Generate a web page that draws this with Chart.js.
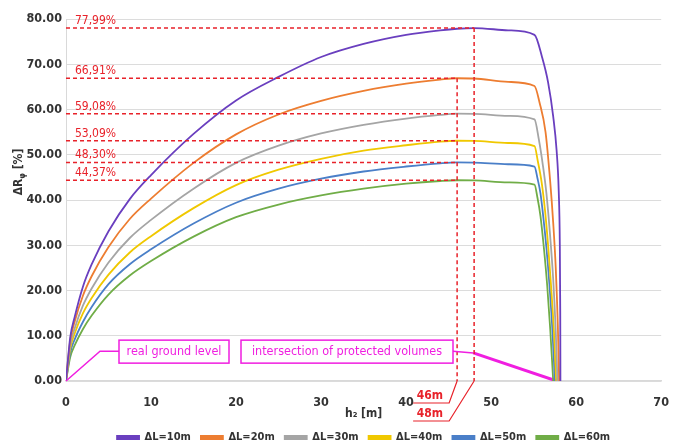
<!DOCTYPE html>
<html>
<head>
<meta charset="utf-8">
<script src="https://cdn.jsdelivr.net/npm/chart.js@4.4.1/dist/chart.umd.min.js"></script>
<style>
  html, body { margin: 0; padding: 0; background: #fff; }
  #wrap { width: 675px; height: 445px; }
</style>
</head>
<body>
<div id="wrap"><canvas id="grafica" width="675" height="445"></canvas></div>
<script>
// h2 [m] sample positions on the rising part of the curves
const h2Rise = [0, 0.5, 1, 2, 3, 5, 7.5, 10, 15, 20, 25, 30, 35, 40, 44, 46, 48, 52, 55.1];

// ΔR values [%] for each ΔL
const rise10 = [0, 9.7, 14.0, 20.9, 25.7, 33.1, 40.2, 45.5, 54.6, 62.0, 67.2, 71.6, 74.5, 76.5, 77.5, 77.85, 77.99, 77.5, 76.5];
const rise20 = [0, 9.0, 13.0, 18.9, 23.1, 29.6, 35.8, 40.3, 48.2, 54.5, 58.9, 61.9, 64.1, 65.7, 66.6, 66.91, 66.85, 66.1, 65.2];
const rise30 = [0, 8.0, 11.5, 16.7, 20.4, 26.2, 31.6, 35.6, 42.5, 48.2, 52.0, 54.7, 56.6, 58.0, 58.8, 59.08, 59.05, 58.6, 57.8];
const rise40 = [0, 7.2, 10.4, 15.0, 18.3, 23.5, 28.4, 32.0, 38.2, 43.3, 46.7, 49.1, 50.9, 52.1, 52.9, 53.09, 53.05, 52.6, 51.9];
const rise50 = [0, 6.3, 9.1, 13.1, 16.3, 21.4, 25.8, 29.1, 34.8, 39.4, 42.5, 44.7, 46.3, 47.4, 48.1, 48.30, 48.27, 47.9, 47.4];
const rise60 = [0, 5.3, 7.8, 11.5, 14.4, 19.1, 23.3, 26.5, 31.9, 36.2, 39.0, 41.0, 42.5, 43.6, 44.2, 44.37, 44.33, 43.9, 43.4];

// falling part after h2 = 55.1 m
const drop10X = [56.0, 56.7, 57.3, 57.7, 57.95, 58.08, 58.13, 58.15];
const drop10Y = [71.5, 66, 58.5, 51, 42, 30, 15, 0];
const drop20X = [55.7, 56.4, 56.95, 57.3, 57.6, 57.85, 58.0];
const drop20Y = [61.5, 55, 44, 35, 25, 12, 0];
const drop30X = [55.6, 56.1, 56.5, 56.9, 57.3, 57.6, 57.8];
const drop30Y = [53.5, 47.5, 41.5, 33, 22.5, 11, 0];
const drop40X = [55.5, 55.95, 56.35, 56.7, 57.05, 57.4, 57.65];
const drop40Y = [48.5, 43.8, 37.5, 30, 21, 10.5, 0];
const drop50X = [55.45, 55.8, 56.15, 56.5, 56.85, 57.2, 57.5];
const drop50Y = [44.8, 41.5, 36, 29.5, 21.5, 11.5, 0];
const drop60X = [55.45, 55.8, 56.2, 56.6, 56.95, 57.3];
const drop60Y = [40.5, 36.5, 29.5, 21, 11.5, 0];

// protected volumes intersection line
const interX = [47.9, 57.7];
const interY = [6.2, 0];

// maxima marked with dashed lines
const peakValues = [77.99, 66.91, 59.08, 53.09, 48.30, 44.37];
const peakH2 = [48, 46, 46, 46, 46, 46];

const labelsDL = ['ΔL=10m', 'ΔL=20m', 'ΔL=30m', 'ΔL=40m', 'ΔL=50m', 'ΔL=60m'];
const colores = ['#6a3fbf', '#ed7d31', '#a5a5a5', '#f0c800', '#4a7fc8', '#70ad47'];

function puntos(xs, ys) {
    return xs.map((v, i) => ({ x: v, y: ys[i] }));
}

const curvas = [
    puntos(h2Rise.concat(drop10X), rise10.concat(drop10Y)),
    puntos(h2Rise.concat(drop20X), rise20.concat(drop20Y)),
    puntos(h2Rise.concat(drop30X), rise30.concat(drop30Y)),
    puntos(h2Rise.concat(drop40X), rise40.concat(drop40Y)),
    puntos(h2Rise.concat(drop50X), rise50.concat(drop50Y)),
    puntos(h2Rise.concat(drop60X), rise60.concat(drop60Y))
];

const FONT = "'DejaVu Sans Condensed', 'DejaVu Sans', sans-serif";
Chart.defaults.font.family = FONT;
Chart.defaults.color = '#333';

const RED = '#e8222a';
const MAG = '#f01ee0';

// dashed lines, labels and callouts
const notas = {
    id: 'notas',
    afterDatasetsDraw(chart) {
        const { ctx, scales: { x, y } } = chart;
        ctx.save();

        // red dashed horizontals / verticals
        ctx.strokeStyle = RED;
        ctx.lineWidth = 1.5;
        ctx.setLineDash([4, 3]);
        peakValues.forEach((p, i) => {
            const py = y.getPixelForValue(p);
            ctx.beginPath();
            ctx.moveTo(x.getPixelForValue(0), py);
            ctx.lineTo(x.getPixelForValue(peakH2[i]), py);
            ctx.stroke();
        });
        [[46, 66.91], [48, 77.99]].forEach(([h, v]) => {
            const px = x.getPixelForValue(h);
            ctx.beginPath();
            ctx.moveTo(px, y.getPixelForValue(v));
            ctx.lineTo(px, y.getPixelForValue(0));
            ctx.stroke();
        });
        ctx.setLineDash([]);

        // percentage labels
        ctx.fillStyle = RED;
        ctx.font = '12px ' + FONT;
        ctx.textAlign = 'left';
        ctx.textBaseline = 'alphabetic';
        peakValues.forEach(p => {
            ctx.fillText(p.toFixed(2).replace('.', ',') + '%', x.getPixelForValue(1.05), y.getPixelForValue(p) - 4);
        });

        // 46m / 48m leaders under the axis
        const y0 = y.getPixelForValue(0);
        ctx.lineWidth = 1.2;
        ctx.font = 'bold 12px ' + FONT;
        ctx.textAlign = 'right';
        [[46, 22, '46m'], [48, 40, '48m']].forEach(([h, dy, txt]) => {
            const px = x.getPixelForValue(h);
            const xl = x.getPixelForValue(46) - 8;
            ctx.beginPath();
            ctx.moveTo(px, y0);
            ctx.lineTo(xl, y0 + dy);
            ctx.lineTo(xl - 36, y0 + dy);
            ctx.stroke();
            ctx.fillText(txt, xl - 6, y0 + dy - 4);
        });

        // magenta callouts
        ctx.strokeStyle = MAG;
        ctx.lineWidth = 1.5;
        const by = y.getPixelForValue(6.6);
        const cajas = [
            { txt: 'real ground level', x0: 119, x1: 229 },
            { txt: 'intersection of protected volumes', x0: 241, x1: 453 }
        ];
        ctx.font = '12.5px ' + FONT;
        ctx.textAlign = 'center';
        ctx.textBaseline = 'middle';
        cajas.forEach(c => {
            ctx.fillStyle = '#fff';
            ctx.fillRect(c.x0, by - 11, c.x1 - c.x0, 23);
            ctx.strokeRect(c.x0, by - 11, c.x1 - c.x0, 23);
            ctx.fillStyle = MAG;
            ctx.fillText(c.txt, (c.x0 + c.x1) / 2, by + 1);
        });
        ctx.beginPath();
        ctx.moveTo(x.getPixelForValue(0), y0);
        ctx.lineTo(x.getPixelForValue(4), by);
        ctx.lineTo(119, by);
        ctx.moveTo(453, by);
        ctx.lineTo(x.getPixelForValue(interX[0]), y.getPixelForValue(interY[0]));
        ctx.stroke();

        ctx.restore();
    },
    afterDraw(chart) {
        // y axis title ΔRφ [%]
        const { ctx } = chart;
        ctx.save();
        ctx.translate(22, 172);
        ctx.rotate(-Math.PI / 2);
        ctx.fillStyle = '#333';
        ctx.textBaseline = 'alphabetic';
        ctx.textAlign = 'left';
        ctx.font = 'bold 12px ' + FONT;
        const w1 = ctx.measureText('ΔR').width;
        ctx.font = 'bold 8px ' + FONT;
        const w2 = ctx.measureText('φ').width;
        ctx.font = 'bold 12px ' + FONT;
        const w3 = ctx.measureText(' [%]').width;
        let sx = -(w1 + w2 + w3) / 2;
        ctx.fillText('ΔR', sx, 0);
        ctx.font = 'bold 8px ' + FONT;
        ctx.fillText('φ', sx + w1, 3);
        ctx.font = 'bold 12px ' + FONT;
        ctx.fillText(' [%]', sx + w1 + w2, 0);
        ctx.restore();
    }
};

const datasets = curvas.map((d, i) => ({
    label: labelsDL[i],
    data: d,
    borderColor: colores[i],
    backgroundColor: colores[i],
    borderWidth: 1.8,
    pointRadius: 0,
    cubicInterpolationMode: 'monotone'
}));
datasets.push({
    label: 'intersection',
    data: puntos(interX, interY),
    borderColor: MAG,
    backgroundColor: MAG,
    borderWidth: 3,
    pointRadius: 0
});

const ctxGrafica = document.getElementById('grafica').getContext('2d');
const grafica = new Chart(ctxGrafica, {
    type: 'line',
    data: { datasets: datasets },
    options: {
        responsive: false,
        animation: false,
        layout: { padding: { top: 19, right: 0, left: 0, bottom: -8 } },
        plugins: {
            legend: {
                position: 'bottom',
                fullSize: false,
                labels: {
                    boxWidth: 22,
                    boxHeight: 3,
                    padding: 10,
                    color: '#333',
                    font: { size: 11, weight: 'bold' },
                    filter: item => item.text !== 'intersection'
                }
            },
            tooltip: { enabled: false }
        },
        scales: {
            x: {
                type: 'linear',
                min: 0,
                max: 70,
                afterFit: s => { s.height = 41; },
                grid: { display: false },
                border: { display: true, color: '#d9d9d9', width: 1.5 },
                ticks: { stepSize: 10, padding: 6, color: '#333', font: { size: 12.5, weight: 'bold' } },
                title: {
                    display: true,
                    text: 'h₂ [m]',
                    color: '#333',
                    font: { size: 12, weight: 'bold' },
                    padding: { top: 2, bottom: 1 }
                }
            },
            y: {
                min: 0,
                max: 80,
                afterFit: s => { s.width = 66; },
                grid: { color: '#dcdcdc', drawTicks: false },
                border: { display: true, color: '#d9d9d9' },
                ticks: {
                    stepSize: 10,
                    padding: 4,
                    color: '#333',
                    font: { size: 12.5, weight: 'bold' },
                    callback: v => v.toFixed(2)
                }
            }
        }
    },
    plugins: [notas]
});
</script>
</body>
</html>
